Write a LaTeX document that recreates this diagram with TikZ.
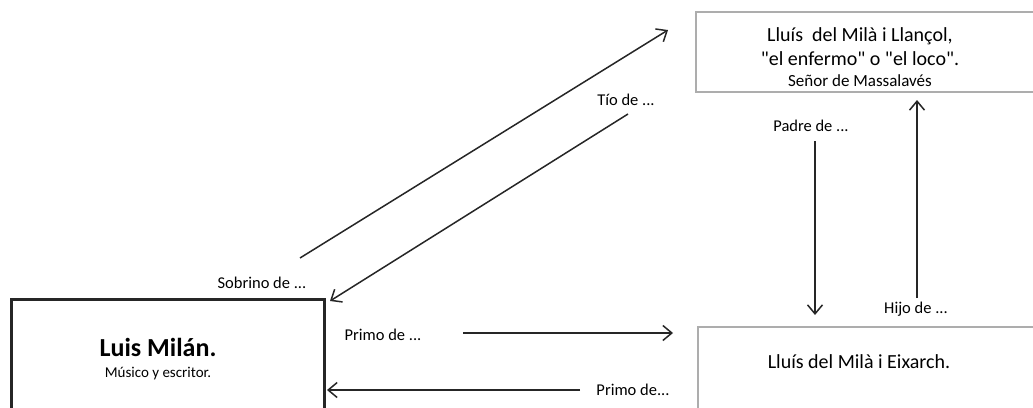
\documentclass[tikz,border=0pt]{standalone}
\usepackage{fontspec}
\setmainfont{Carlito}[Ligatures=TeXOff]
\usepackage{tikz}
\usetikzlibrary{positioning,calc,arrows.meta}

\begin{document}
\begin{tikzpicture}[
    x=1pt, y=-1pt,
    personbox/.style={draw=black!85, line width=2.8pt, anchor=north west},
    graybox/.style={draw=black!32, line width=1.6pt, anchor=north west},
    nametext/.style={font=\fontsize{20}{24}\selectfont, align=center, inner sep=0pt},
    reltext/.style={font=\fontsize{16.5}{19}\selectfont, inner sep=0pt},
    relarrow/.style={-{Straight Barb[length=9pt,width=15pt]}, line width=1.5pt, black!85}
]
    \useasboundingbox (0,0) rectangle (1033,407);
    \clip (0,0) rectangle (1033,407);

    % boxes
    \node[personbox, minimum width=313pt, minimum height=140pt] (milanbox) at (10,298) {};
    \node[graybox, minimum width=360pt, minimum height=80pt] (llancolbox) at (695,11) {};
    \node[graybox, minimum width=360pt, minimum height=100pt] (eixarchbox) at (697,326) {};

    % names
    \node[nametext] (milan) at (158,359) {{\fontsize{26}{28}\selectfont\bfseries Luis Milán.}\\[-3pt]
        {\fontsize{15}{18}\selectfont Músico y escritor.}};
    \node[nametext] (llancol) at (860,57) {Lluís\ \ del Milà i Llançol,\\ "el enfermo" o "el loco".\\[-3pt]
        {\fontsize{17}{20}\selectfont Señor de Massalavés}};
    \node[nametext] (eixarch) at (859,362) {Lluís del Milà i Eixarch.};

    % arrow ends
    \coordinate (sobA) at (300,258);
    \coordinate (sobB) at (668,30);
    \coordinate (tioA) at (628,114);
    \coordinate (tioB) at (330,301);
    \coordinate (padA) at (815,141);
    \coordinate (padB) at (815,315);
    \coordinate (hijA) at (917,298);
    \coordinate (hijB) at (917,100);
    \coordinate (priA) at (463,333);
    \coordinate (priB) at (673,333);
    \coordinate (priC) at (580,390);
    \coordinate (priD) at (327,390);

    \draw[relarrow] (sobA) -- (sobB);
    \draw[relarrow] (tioA) -- (tioB);
    \draw[relarrow] (padA) -- (padB);
    \draw[relarrow] (hijA) -- (hijB);
    \draw[relarrow] (priA) -- (priB);
    \draw[relarrow] (priC) -- (priD);

    % labels
    \node[reltext] (sobrino) at (262,283) {Sobrino de ...};
    \node[reltext] (tio) at (626,100) {Tío de ...};
    \node[reltext] (padre) at (811,126) {Padre de ...};
    \node[reltext] (hijo) at (916,309) {Hijo de ...};
    \node[reltext] (primo1) at (383,335) {Primo de ...};
    \node[reltext] (primo2) at (633,390) {Primo de...};
\end{tikzpicture}
\end{document}
